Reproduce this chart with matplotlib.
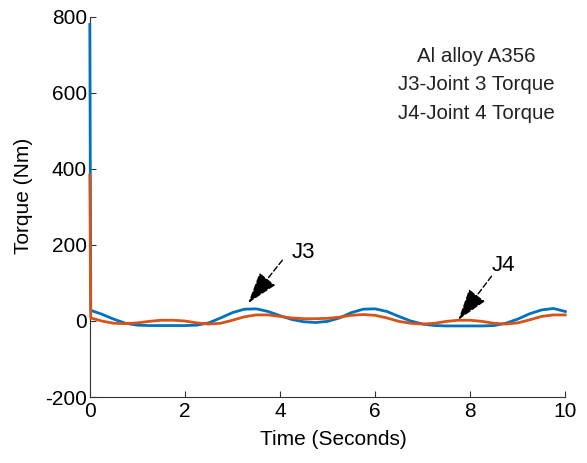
import matplotlib.pyplot as plt
import numpy as np

plt.rcParams['font.family'] = ['Liberation Sans', 'DejaVu Sans']
plt.rcParams['axes.unicode_minus'] = False

# Joint torques (time in s, torque in Nm)
t = [0, 0.02, 0.25, 0.5, 0.75, 1.0, 1.25, 1.5, 1.75, 2.0, 2.25, 2.5, 2.75,
     3.0, 3.25, 3.5, 3.75, 4.0, 4.25, 4.5, 4.75, 5.0, 5.25, 5.5, 5.75,
     6.0, 6.25, 6.5, 6.75, 7.0, 7.25, 7.5, 7.75, 8.0, 8.25, 8.5, 8.75,
     9.0, 9.25, 9.5, 9.75, 10.0]
j3 = [780, 28, 18, 5, -6, -11, -12, -12, -12, -12, -11, -5, 8,
      22, 31, 32, 25, 14, 4, -2, -4, -1, 8, 22, 31,
      32, 25, 12, 0, -8, -12, -13, -13, -13, -13, -12, -6,
      5, 19, 29, 33, 25]
j4 = [384, 8, 0, -6, -7, -5, -1, 2, 2, 0, -5, -8, -6,
      2, 11, 16, 16, 12, 8, 6, 6, 7, 10, 15, 17,
      15, 8, -1, -6, -8, -6, -1, 2, 2, -1, -6, -8,
      -5, 3, 12, 16, 16]

info_lines = ['Al alloy A356', 'J3-Joint 3 Torque', 'J4-Joint 4 Torque']

fig = plt.figure(figsize=(5.87, 4.63), dpi=100)
ax = fig.add_axes([0.153, 0.1425, 0.81, 0.821])

ax.plot(t, j3, color='#0072BD', lw=2, clip_on=False, zorder=3)
ax.plot(t, j4, color='#D95319', lw=2, clip_on=False, zorder=3)

ax.set_xlim(0, 10)
ax.set_ylim(-200, 800)
ax.set_xticks(np.arange(0, 11, 2))
ax.set_yticks(np.arange(-200, 801, 200))
ax.spines['top'].set_visible(False)
ax.spines['right'].set_visible(False)
for s in ['left', 'bottom']:
    ax.spines[s].set_color('#333333')
ax.tick_params(direction='in', labelsize=15, length=4, colors='#333333',
               labelcolor='black')
ax.tick_params(axis='y', pad=2)

ax.set_xlabel('Time (Seconds)', fontsize=15)
ax.set_ylabel('Torque (Nm)', fontsize=15)
ax.xaxis.set_label_coords(0.512, -0.087)
ax.yaxis.set_label_coords(-0.12, 0.53)

for i, line in enumerate(info_lines):
    ax.text(8.12, 695 - i * 74, line, fontsize=14.8, ha='center', va='center',
            color='#222222')

arrow = dict(arrowstyle='-|>,head_length=1.0,head_width=0.32', color='black',
             lw=1, linestyle=(0, (4, 2)), shrinkA=0, shrinkB=0,
             mutation_scale=20)
ax.annotate('', xy=(3.33, 47), xytext=(4.05, 160), arrowprops=arrow)
ax.text(4.5, 180, 'J3', fontsize=16, ha='center', va='center')
ax.annotate('', xy=(7.75, 3), xytext=(8.45, 118), arrowprops=arrow)
ax.text(8.7, 147, 'J4', fontsize=16, ha='center', va='center')

plt.savefig('out.png', dpi=100)
